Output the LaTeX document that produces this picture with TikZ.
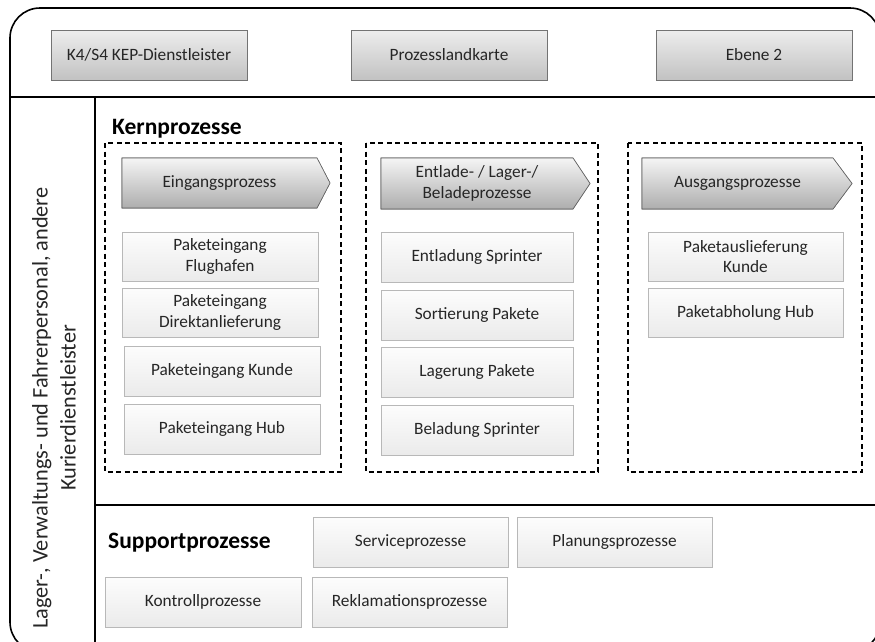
\documentclass[tikz,border=0pt]{standalone}
\usepackage{fontspec}
\setmainfont{Carlito}
\definecolor{txt}{HTML}{262626}
\tikzset{
  frame/.style={line width=1.6pt, black},
  boxfont/.style={font=\fontsize{17.3}{20.5}\selectfont, text=txt},
  headbox/.style={draw=black!55, line width=0.6pt, top color=black!7, bottom color=black!24,
    inner sep=0pt, boxfont},
  subbox/.style={draw=black!28, line width=0.6pt, top color=black!1, bottom color=black!8,
    inner sep=0pt, align=center, boxfont},
  chevshape/.style={draw=black!62, line width=0.6pt, top color=black!4, bottom color=black!32},
  chevtext/.style={inner sep=0pt, align=center, boxfont},
  group/.style={draw=black, line width=1.1pt, dash pattern=on 5pt off 3.5pt},
  title/.style={font=\bfseries\fontsize{23.5}{26}\selectfont, anchor=west, inner sep=0pt},
}
\newcommand{\pbox}[6]{% style, name, x1, y1, x2, y2
  \node[#1, minimum width={#5-#3}, minimum height={#6-#4}] (#2) at ({(#3+#5)/2},{(#4+#6)/2})}
% chevron: name, x-left, y-top, x-body-end, x-tip, y-bottom, text
\newcommand{\chevron}[7]{%
  \shade[chevshape] (#2,#3) -- (#4,#3) -- (#5,{(#3+#6)/2}) -- (#4,#6) -- (#2,#6) -- cycle;
  \draw[chevshape, fill=none] (#2,#3) -- (#4,#3) -- (#5,{(#3+#6)/2}) -- (#4,#6) -- (#2,#6) -- cycle;
  \node[chevtext] (#1) at ({(#2+#4)/2},{(#3+#6)/2}) {#7};}
\begin{document}
\begin{tikzpicture}[x=1pt,y=-1pt]
\useasboundingbox (0,0) rectangle (875,641);
\begin{scope}
\clip (0,0) rectangle (875,641);
% outer frame and dividers
\draw[frame, rounded corners=30pt] (10,8) rectangle (880,652);
\coordinate (hl) at (10,97);
\coordinate (hr) at (880,97);
\draw[frame] (hl) -- (hr);
\coordinate (vt) at (95,97);
\coordinate (vb) at (95,650);
\draw[frame] (vt) -- (vb);
\coordinate (sl) at (95,505);
\coordinate (sr) at (880,505);
\draw[frame] (sl) -- (sr);
\end{scope}

% header
\pbox{headbox}{kep}{51}{30}{247}{80} {K4/S4 KEP-Dienstleister};
\pbox{headbox}{plk}{351}{30}{547}{80} {Prozesslandkarte};
\pbox{headbox}{eb}{656}{30}{852}{80} {Ebene 2};

% side label
\node[rotate=90, align=center, font=\fontsize{22.3}{28}\selectfont, text=txt] (staff) at (54,408)
  {Lager-, Verwaltungs- und Fahrerpersonal, andere\\Kurierdienstleister};

% core processes
\node[title] (kern) at (112,129) {Kernprozesse};
\draw[group] (105,143) rectangle (341,472);
\draw[group] (366,143) rectangle (598,472);
\draw[group] (628,143) rectangle (862,472);

\chevron{ein}{122}{158}{317}{330}{208}{Eingangsprozess}
\chevron{ent}{381}{158}{573}{590}{209}{Entlade- / Lager-/\\Beladeprozesse}
\chevron{aus}{642}{158}{833}{852}{209}{Ausgangsprozesse}

\pbox{subbox}{pf}{122}{232}{318}{281} {Paketeingang\\Flughafen};
\pbox{subbox}{pd}{122}{288}{318}{337} {Paketeingang\\Direktanlieferung};
\pbox{subbox}{pk}{124}{346}{320}{396} {Paketeingang Kunde};
\pbox{subbox}{ph}{124}{404}{320}{454} {Paketeingang Hub};

\pbox{subbox}{es}{381}{232}{573}{282} {Entladung Sprinter};
\pbox{subbox}{sp}{381}{290}{573}{340} {Sortierung Pakete};
\pbox{subbox}{lp}{381}{347}{573}{397} {Lagerung Pakete};
\pbox{subbox}{bs}{381}{405}{573}{455} {Beladung Sprinter};

\pbox{subbox}{pak}{648}{232}{843}{281} {Paketauslieferung\\Kunde};
\pbox{subbox}{pah}{648}{288}{843}{337} {Paketabholung Hub};

% support processes
\node[title] (supp) at (108,543) {Supportprozesse};
\pbox{subbox}{srv}{313}{517}{508}{567} {Serviceprozesse};
\pbox{subbox}{pln}{517}{517}{712}{567} {Planungsprozesse};
\pbox{subbox}{ktr}{105}{577}{301}{627} {Kontrollprozesse};
\pbox{subbox}{rkl}{312}{577}{507}{627} {Reklamationsprozesse};
\end{tikzpicture}
\end{document}
